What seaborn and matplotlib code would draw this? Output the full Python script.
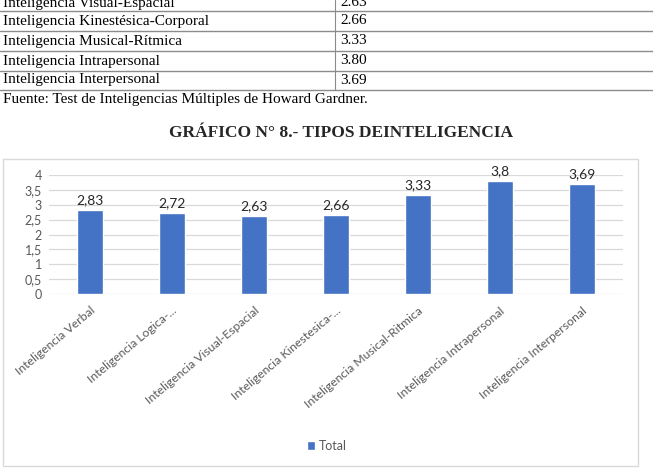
import matplotlib
matplotlib.use("Agg")
import matplotlib.pyplot as plt
import seaborn as sns
import pandas as pd
from matplotlib.lines import Line2D
from matplotlib.patches import Rectangle

# table rows visible above the chart
table_names = ["Inteligencia Visual-Espacial", "Inteligencia Kinestésica-Corporal",
               "Inteligencia Musical-Rítmica", "Inteligencia Intrapersonal",
               "Inteligencia Interpersonal"]
table_values = ["2.63", "2.66", "3.33", "3.80", "3.69"]

# chart data
categories = ["Inteligencia Verbal", "Inteligencia Logica-...", "Inteligencia Visual-Espacial",
              "Inteligencia Kinestesica-...", "Inteligencia Musical-Ritmica",
              "Inteligencia Intrapersonal", "Inteligencia Interpersonal"]
totals = [2.83, 2.72, 2.63, 2.66, 3.33, 3.8, 3.69]
y_ticks = [0, 0.5, 1, 1.5, 2, 2.5, 3, 3.5, 4]

sns.set_style("white")
W, H = 653, 468
fig = plt.figure(figsize=(W / 100, H / 100), dpi=100)

def fx(px):
    return px / W

def fy(py):
    return 1 - py / H

serif = "Liberation Serif"
sans = "Lato"
grey_txt = "#595959"

############################################
# the table part on top of the page
row_y = [3, 21, 41, 61, 80]
for name, val, ry in zip(table_names, table_values, row_y):
    fig.text(fx(3), fy(ry), name, family=serif, fontsize=11, va="center", color="black")
    fig.text(fx(340), fy(ry), val, family=serif, fontsize=11, va="center", color="black")
for ly in [11, 31, 51, 70.5, 90]:
    fig.add_artist(Line2D([0, 1], [fy(ly), fy(ly)], color="#8c8c8c", lw=1.0))
fig.add_artist(Line2D([fx(335), fx(335)], [fy(0), fy(90)], color="#8c8c8c", lw=0.8))
fig.text(fx(3), fy(99), "Fuente: Test de Inteligencias Múltiples de Howard Gardner.",
         family=serif, fontsize=11, va="center", color="black")

fig.text(fx(341), fy(133), "GRÁFICO N° 8.- TIPOS DEINTELIGENCIA",
         family=serif, fontsize=12.5, fontweight="bold", ha="center", va="center")

# chart frame
fig.add_artist(Rectangle((fx(3), fy(466)), fx(635), fy(159) - fy(466),
                         fill=False, edgecolor="#d9d9d9", lw=1.0))

############################################
# bar chart
df = pd.DataFrame({"cat": categories, "Total": totals})
ax = fig.add_axes([fx(49), fy(294), fx(623 - 49), fy(175) - fy(294)])
sns.barplot(data=df, x="cat", y="Total", color="#4472C4", saturation=1,
            width=0.31, ax=ax, label="Total")

ax.set_ylim(0, 4)
ax.set_yticks(y_ticks)
ax.set_yticklabels([f"{t:g}".replace(".", ",") for t in y_ticks],
                   family=sans, fontsize=9, color=grey_txt)
ax.set_xticks(range(len(categories)))
ax.set_xticklabels(categories, rotation=40, ha="right", rotation_mode="anchor",
                   family=sans, fontsize=8.8, color=grey_txt)
ax.tick_params(axis="y", length=0, pad=5)
ax.tick_params(axis="x", length=0, pad=8)
ax.set_xlabel("")
ax.set_ylabel("")
ax.grid(axis="y", color="#d9d9d9", lw=0.9)
ax.set_axisbelow(True)
for s in ax.spines.values():
    s.set_visible(False)

for i, v in enumerate(totals):
    ax.text(i, v + 0.12, f"{v:g}".replace(".", ","), ha="center", va="bottom",
            family=sans, fontsize=10, color="#262626")

leg = ax.legend(loc="center", bbox_to_anchor=(fx(327), fy(446)),
                bbox_transform=fig.transFigure, frameon=False,
                prop={"family": sans, "size": 9}, handlelength=0.7,
                handleheight=0.7, handletextpad=0.3)
for t in leg.get_texts():
    t.set_color(grey_txt)

fig.savefig("out.png", dpi=100)
